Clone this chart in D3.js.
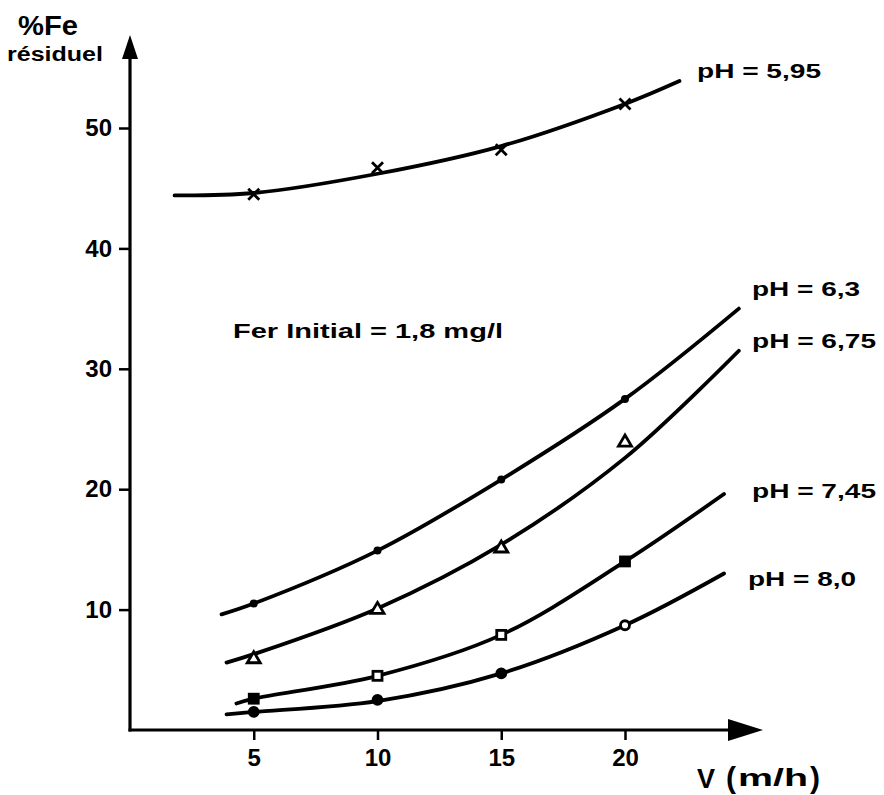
<!DOCTYPE html>
<html><head><meta charset="utf-8">
<script src="https://cdn.jsdelivr.net/npm/d3@7"></script>
<style>
body{margin:0;background:#fff;}
svg text{font-family:"Liberation Sans",Arial,Helvetica,sans-serif;font-weight:bold;fill:#000;}
</style></head>
<body><svg id="c" width="884" height="795"></svg>
<script>
// measured points (V in m/h, % Fe residuel)
const V = [5, 10, 15, 20];
const fe595 = [44.5, 46.7, 48.2, 52.0];
const fe63  = [10.5, 14.9, 20.8, 27.5];
const fe675 = [6.0, 10.1, 15.2, 24.0];
const fe745 = [2.6, 4.5, 7.9, 14.0];
const fe80  = [1.5, 2.5, 4.7, 8.7];
// hand-drawn fitted curves
const c595V = [1.8, 5, 10, 15, 20, 22.2], c595 = [44.4, 44.6, 46.2, 48.5, 52.0, 53.9];
const c63V  = [3.7, 5, 10, 15, 20, 24.6], c63  = [9.6, 10.5, 14.9, 20.8, 27.5, 35.0];
const c675V = [3.9, 5, 10, 15, 20, 24.6], c675 = [5.6, 6.3, 10.1, 15.4, 22.6, 31.5];
const c745V = [4.3, 5, 10, 15, 20, 24.0], c745 = [2.2, 2.6, 4.5, 7.9, 14.0, 19.6];
const c80V  = [3.9, 5, 10, 15, 20, 24.0], c80  = [1.3, 1.5, 2.4, 4.7, 8.7, 13.0];
const xTicks = [5, 10, 15, 20];
const yTicks = [10, 20, 30, 40, 50];
const labels = ["pH = 5,95", "pH = 6,3", "pH = 6,75", "pH = 7,45", "pH = 8,0"];

const svg = d3.select("#c");
const x = d3.scaleLinear().domain([0, 20]).range([130, 625]);
const y = d3.scaleLinear().domain([0, 50]).range([730, 128]);
const X0 = x(0), Y0 = y(0);

// axes lines with arrows
svg.append("line").attr("x1", X0).attr("y1", Y0 + 1.5).attr("x2", X0).attr("y2", 50)
  .attr("stroke", "#000").attr("stroke-width", 3.2);
svg.append("path").attr("d", `M${X0},35 L${X0-8},59 L${X0+8},59 Z`).attr("fill", "#000");
svg.append("line").attr("x1", X0 - 1.5).attr("y1", Y0).attr("x2", 740).attr("y2", Y0)
  .attr("stroke", "#000").attr("stroke-width", 3.2);
svg.append("path").attr("d", `M763,${Y0} L728,${Y0-11} L728,${Y0+11} Z`).attr("fill", "#000");

const ax = svg.append("g").attr("transform", `translate(0,${Y0})`)
  .call(d3.axisBottom(x).tickValues(xTicks).tickSize(10).tickPadding(9).tickFormat(d3.format("d")));
const ay = svg.append("g").attr("transform", `translate(${X0},0)`)
  .call(d3.axisLeft(y).tickValues(yTicks).tickSize(11).tickPadding(7).tickFormat(d3.format("d")));
[ax, ay].forEach(g => {
  g.attr("font-size", 24).attr("font-family", "Liberation Sans, Arial, sans-serif").attr("font-weight", "bold");
  g.select(".domain").remove();
  g.selectAll(".tick line").attr("stroke", "#000").attr("stroke-width", 2.5);
  g.selectAll(".tick text").attr("fill", "#000");
});

// curves
const line = d3.line().x(d => x(d[0])).y(d => y(d[1])).curve(d3.curveCatmullRom.alpha(0.5));
[[c595V, c595], [c63V, c63], [c675V, c675], [c745V, c745], [c80V, c80]].forEach(([vx, vy]) => {
  svg.append("path").datum(vx.map((v, i) => [v, vy[i]])).attr("d", line)
    .attr("fill", "none").attr("stroke", "#000").attr("stroke-width", 3.8).attr("stroke-linecap", "round");
});

// markers
const pts = (arr) => V.map((v, i) => [v, arr[i]]);
// crosses
svg.append("g").selectAll("path").data(pts(fe595)).join("path")
  .attr("transform", d => `translate(${x(d[0])},${y(d[1])})`)
  .attr("d", "M-5.5,-5.5L5.5,5.5M5.5,-5.5L-5.5,5.5").attr("stroke", "#000").attr("stroke-width", 2.8);
// small filled dots
svg.append("g").selectAll("circle").data(pts(fe63)).join("circle")
  .attr("cx", d => x(d[0])).attr("cy", d => y(d[1])).attr("r", 4).attr("fill", "#000");
// open triangles
svg.append("g").selectAll("path").data(pts(fe675)).join("path")
  .attr("transform", d => `translate(${x(d[0])},${y(d[1])})`)
  .attr("d", "M0,-6L6.5,5L-6.5,5Z").attr("fill", "#fff").attr("stroke", "#000").attr("stroke-width", 2.8);
// squares
svg.append("g").selectAll("rect").data(pts(fe745)).join("rect")
  .attr("x", d => x(d[0]) - 4.5).attr("y", d => y(d[1]) - 4.5).attr("width", 9).attr("height", 9)
  .attr("fill", (d, i) => (i === 0 || i === 3) ? "#000" : "#fff").attr("stroke", "#000").attr("stroke-width", 2.8);
// circles
svg.append("g").selectAll("circle").data(pts(fe80)).join("circle")
  .attr("cx", d => x(d[0])).attr("cy", d => y(d[1])).attr("r", 4.5)
  .attr("fill", (d, i) => i === 3 ? "#fff" : "#000").attr("stroke", "#000").attr("stroke-width", 2.8);

// texts
const T = (t, px, py, fs, opts = {}) => {
  const e = svg.append("text").attr("x", px).attr("y", py).attr("font-size", fs).text(t);
  if (opts.len) e.attr("textLength", opts.len).attr("lengthAdjust", "spacingAndGlyphs");
  if (opts.anchor) e.attr("text-anchor", opts.anchor);
  return e;
};
T("%Fe", 18, 35, 28, {len: 60});
T("résiduel", 7, 61, 20, {len: 96});
const labPos = [[697, 78], [752, 296], [752, 348], [752, 498], [748, 586]];
labels.forEach((l, i) => T(l, labPos[i][0], labPos[i][1], 21, {len: l.length > 8 ? 124 : 108}));
T("Fer Initial = 1,8 mg/l", 233, 338, 21, {len: 270});
T("V", 697, 788, 27);
T("(", 726, 788, 30).attr("font-weight", "normal");
T("m/h", 738, 786, 23, {len: 70});
T(")", 810, 788, 30).attr("font-weight", "normal");
</script></body></html>
